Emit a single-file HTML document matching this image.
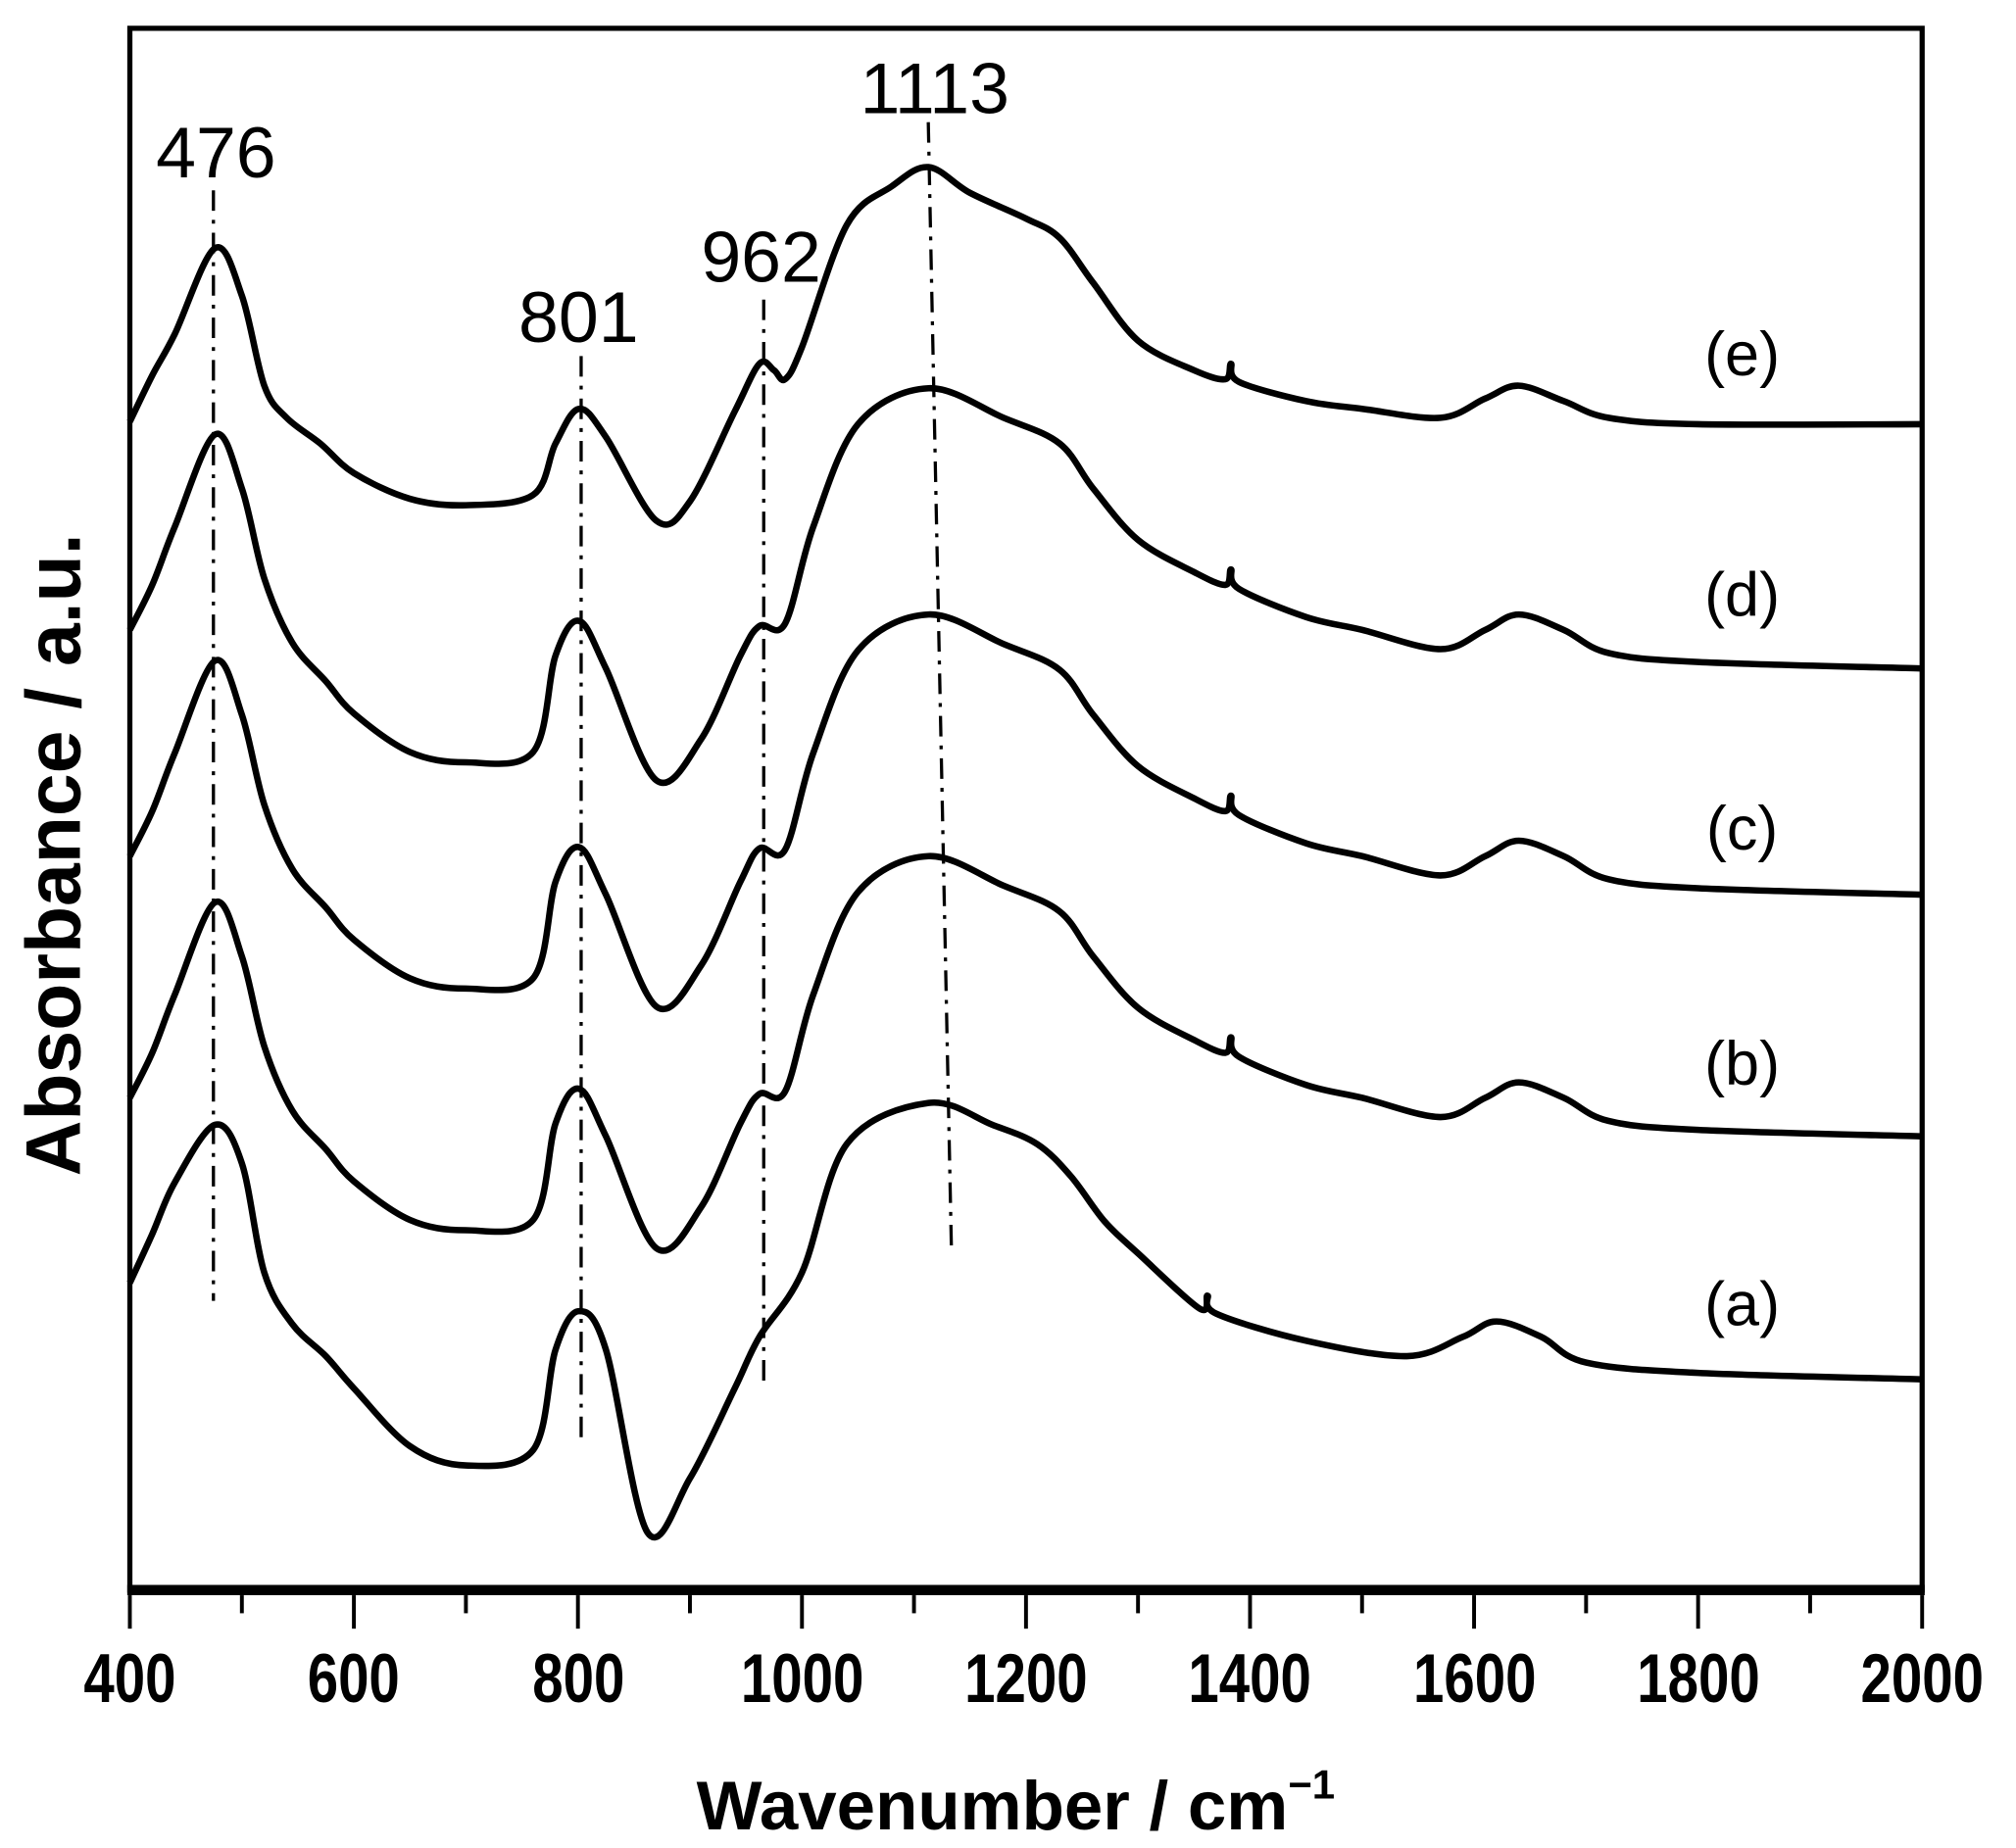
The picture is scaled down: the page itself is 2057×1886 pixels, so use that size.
<!DOCTYPE html>
<html><head><meta charset="utf-8"><style>
html,body{margin:0;padding:0;background:#fff}
svg{display:block}
text{font-family:"Liberation Sans",Arial,sans-serif;fill:#000}
</style></head><body>
<svg id="s" width="2057" height="1886" viewBox="0 0 1568 1437.6" xmlns="http://www.w3.org/2000/svg">
<rect x="101" y="22" width="1394" height="1215" fill="none" stroke="#000" stroke-width="4"/>
<line x1="99" y1="1237" x2="1497" y2="1237" stroke="#000" stroke-width="8"/>
<g id="ticks" stroke="#000" stroke-width="3"></g>
<g font-size="43" font-weight="bold" text-anchor="middle" transform="translate(0,1324) scale(1,1.25)">
<text x="101" y="0">400</text><text x="275" y="0">600</text><text x="450" y="0">800</text>
<text x="624" y="0">1000</text><text x="798" y="0">1200</text><text x="972" y="0">1400</text>
<text x="1147" y="0">1600</text><text x="1321" y="0">1800</text><text x="1495" y="0">2000</text>
</g>
<text x="790" y="1423" font-size="54" font-weight="bold" text-anchor="middle">Wavenumber / cm<tspan font-size="32" dy="-24">−1</tspan></text>
<text transform="translate(62,665) rotate(-90)" font-size="60" font-weight="bold" text-anchor="middle">Absorbance / a.u.</text>
<g fill="none" stroke="#000" stroke-width="2.5" stroke-dasharray="16,7,3,7">
<line x1="166" y1="148" x2="166" y2="1012"/>
<line x1="452" y1="277" x2="452" y2="1118"/>
<line x1="594" y1="233" x2="594" y2="1075"/>
<line x1="722" y1="95" x2="740" y2="972"/>
</g>
<g font-size="56" text-anchor="middle">
<text x="168" y="138">476</text><text x="450" y="266">801</text>
<text x="592" y="219">962</text><text x="727" y="88">1113</text>
</g>
<g font-size="48" text-anchor="middle">
<text x="1355" y="292">(e)</text><text x="1355" y="479">(d)</text><text x="1355" y="661">(c)</text>
<text x="1355" y="844">(b)</text><text x="1355" y="1031">(a)</text>
</g>
<g id="curves" fill="none" stroke="#000" stroke-width="5" stroke-linejoin="round"></g>
</svg>
<script>
var NS="http://www.w3.org/2000/svg";
function X(w){return 101+(w-400)*1394/1600;}
var tg=document.getElementById('ticks');
for(var w=400;w<=2000;w+=100){var l=document.createElementNS(NS,'line');l.setAttribute('x1',X(w));l.setAttribute('x2',X(w));l.setAttribute('y1',1241);l.setAttribute('y2',w%200==0?1267:1255);tg.appendChild(l);}
var e=[[400,328],[420,292],[440,260],[476,193],[500,230],[520,300],[540,325],[570,345],[600,368],[650,388],[700,393],[760,385],[780,345],[801,318],[825,340],[870,405],[900,390],[940,320],[962,283],[975,288],[985,295],[1000,270],[1040,175],[1080,145],[1113,130],[1150,150],[1200,170],[1230,185],[1260,220],[1300,265],[1350,288],[1378,295],[1383,283],[1390,297],[1450,312],[1500,318],[1570,325],[1610,310],[1640,300],[1680,312],[1720,325],[1800,330],[2000,330]];
var d=[[400,490],[420,455],[440,410],[476,338],[500,380],[520,450],[545,500],[575,530],[600,555],[650,585],[700,593],[760,585],[780,510],[801,483],[825,520],[870,607],[910,575],[945,510],[962,487],[985,485],[1010,410],[1050,330],[1113,302],[1180,325],[1230,345],[1260,380],[1300,420],[1350,445],[1378,455],[1383,443],[1390,458],[1450,480],[1500,490],[1570,505],[1610,490],[1640,478],[1680,490],[1720,508],[1800,515],[2000,520]];
function shift(p,dy){return p.map(function(q){return [q[0],q[1]+dy];});}
var c=shift(d,176).map(function(q){return q[0]==962?[962,660]:q;});
var b=shift(d,364);
var a=[[400,998],[420,960],[440,920],[476,875],[500,905],[520,990],[545,1030],[575,1055],[600,1080],[650,1125],[700,1140],[760,1128],[780,1050],[801,1020],[825,1050],[862,1192],[900,1150],[940,1080],[962,1040],[1000,990],[1040,890],[1113,858],[1170,875],[1210,890],[1240,915],[1270,950],[1300,975],[1355,1018],[1362,1008],[1370,1022],[1450,1043],[1540,1055],[1590,1040],[1620,1028],[1660,1040],[1700,1060],[1800,1068],[2000,1073]];
function path(p){var pts=p.map(function(q){return [X(q[0]),q[1]];});var s="M"+pts[0][0]+","+pts[0][1];
for(var i=0;i<pts.length-1;i++){var p0=pts[Math.max(0,i-1)],p1=pts[i],p2=pts[i+1],p3=pts[Math.min(pts.length-1,i+2)];
s+="C"+(p1[0]+(p2[0]-p0[0])/6)+","+(p1[1]+(p2[1]-p0[1])/6)+" "+(p2[0]-(p3[0]-p1[0])/6)+","+(p2[1]-(p3[1]-p1[1])/6)+" "+p2[0]+","+p2[1];}
return s;}
var cg=document.getElementById('curves');
[e,d,c,b,a].forEach(function(p){var el=document.createElementNS(NS,'path');el.setAttribute('d',path(p));cg.appendChild(el);});
</script>
</body></html>
